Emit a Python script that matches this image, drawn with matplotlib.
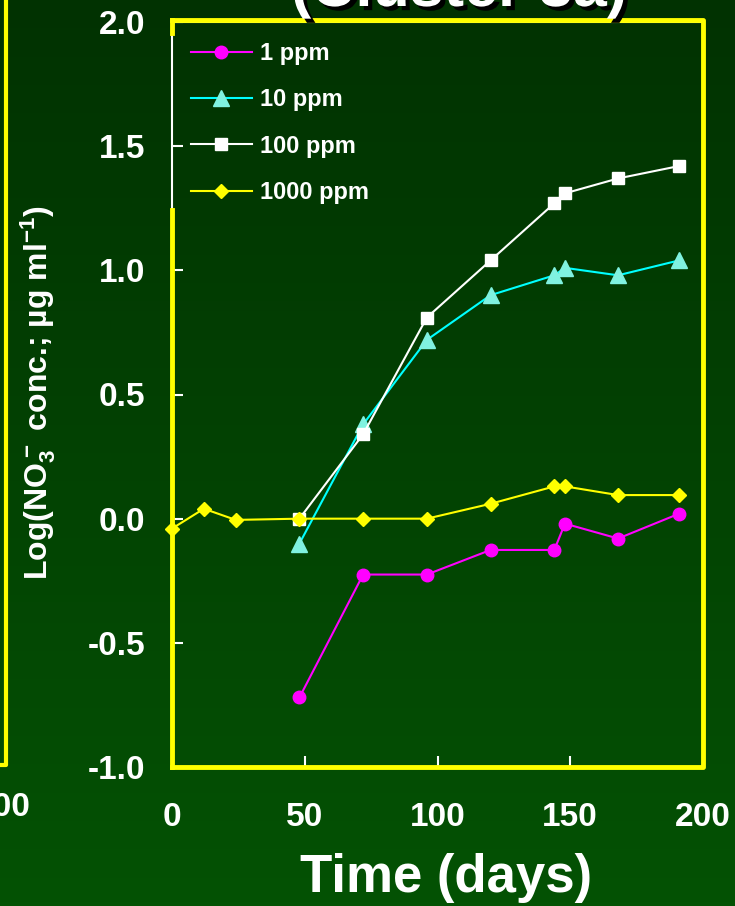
import matplotlib
matplotlib.use("Agg")
import matplotlib.pyplot as plt
import matplotlib.patheffects as pe
import numpy as np

plt.rcParams['font.family'] = ['Liberation Sans', 'DejaVu Sans']
plt.rcParams['font.weight'] = 'bold'
plt.rcParams['mathtext.fontset'] = 'custom'
plt.rcParams['mathtext.rm'] = 'Liberation Sans:bold'
plt.rcParams['mathtext.bf'] = 'Liberation Sans:bold'
plt.rcParams['mathtext.default'] = 'rm'
plt.rcParams['axes.unicode_minus'] = False

# data
days = [48, 72, 96, 120, 144, 148, 168, 191]
ppm1 = [-0.72, -0.225, -0.225, -0.126, -0.126, -0.02, -0.08, 0.02]
ppm10 = [-0.1, 0.38, 0.72, 0.9, 0.98, 1.01, 0.98, 1.04]
ppm100 = [0.0, 0.34, 0.81, 1.04, 1.27, 1.31, 1.37, 1.42]
days1000 = [0, 12, 24, 48, 72, 96, 120, 144, 148, 168, 191]
ppm1000 = [-0.04, 0.04, -0.005, 0.0, 0.0, 0.0, 0.06, 0.13, 0.13, 0.095, 0.095]
labels = ["1 ppm", "10 ppm", "100 ppm", "1000 ppm"]
xticks = [0, 50, 100, 150, 200]
yticks = [-1.0, -0.5, 0.0, 0.5, 1.0, 1.5, 2.0]

W, H = 735, 906
fig = plt.figure(figsize=(W / 100, H / 100), dpi=100)

# green gradient background of the slide
bg = fig.add_axes([0, 0, 1, 1], zorder=-10)
top = np.array([1, 50, 1]) / 255
bot = np.array([4, 82, 4]) / 255
t = np.linspace(0, 1, 256)[:, None]
grad = top[None, None, :] * (1 - t[:, :, None]) + bot[None, None, :] * t[:, :, None]
bg.imshow(np.repeat(grad, 2, axis=1), aspect='auto', extent=[0, 1, 0, 1])
bg.set_axis_off()

ax = fig.add_axes([172 / W, 1 - 767 / H, (703 - 172) / W, (767 - 22) / H])
ax.set_facecolor('none')

ax.plot(days, ppm1, color='#ff00ff', lw=1.5, marker='o', ms=9, mfc='#ff00ff', mec='#ff00ff', label=labels[0], clip_on=False, zorder=3)
ax.plot(days, ppm10, color='#00ffff', lw=1.5, marker='^', ms=11, mfc='#80f2e0', mec='#80f2e0', label=labels[1], clip_on=False, zorder=3)
ax.plot(days, ppm100, color='white', lw=1.5, marker='s', ms=9, mfc='white', mec='white', label=labels[2], clip_on=False, zorder=3)
ax.plot(days1000, ppm1000, color='#ffff00', lw=1.5, marker='D', ms=7.5, mfc='#ffff00', mec='#ffff00', label=labels[3], clip_on=False, zorder=4)

ax.set_xlim(0, 200)
ax.set_ylim(-1.0, 2.0)
ax.set_xticks(xticks)
ax.set_yticks(yticks)
ax.set_yticklabels(["%.1f" % v for v in yticks])
ax.tick_params(axis='both', direction='in', length=8, width=1.5, color='white',
               labelcolor='white', labelsize=24)
ax.tick_params(axis='y', pad=19)
ax.tick_params(axis='x', pad=25)
for s in ax.spines.values():
    s.set_color('white')
    s.set_linewidth(1.5)

# yellow frame over the axes (gap on the left behind the legend)
yk = dict(color='#ffff00', lw=3.5, transform=ax.transAxes, clip_on=False, zorder=5, solid_capstyle='projecting')
ax.plot([0, 1, 1, 0], [1.003, 1.003, 0, 0], **yk)
ax.plot([0, 0], [1.003, 0.985], **yk)
ax.plot([0, 0], [0.748, 0], **yk)

ax.set_xlabel("Time (days)", fontsize=38, color='white', fontweight='bold')
ax.xaxis.set_label_coords(0.516, -0.115)
ax.xaxis.label.set_va('top')
ax.set_ylabel(r"Log(NO$_3^-$ conc.; µg ml$^{-1}$)", fontsize=23, color='white', fontweight='bold')
ax.yaxis.label.set_va('center')
ax.yaxis.set_label_coords(-0.252, 0.503)

leg = ax.legend(loc='upper left', bbox_to_anchor=(191 / W, 1 - 42 / H), bbox_transform=fig.transFigure,
                frameon=False, fontsize=17, handlelength=2.58, handletextpad=0.35,
                labelspacing=0.99, borderpad=0, borderaxespad=0)
for txt in leg.get_texts():
    txt.set_color('white')

# cut-off title of the slide
fig.text(459 / W, 1 - 6 / H, "(Cluster 3a)", fontsize=44, color='white', fontweight='bold',
         ha='center', va='baseline',
         path_effects=[pe.withSimplePatchShadow(offset=(3, -3), shadow_rgbFace='black', alpha=1)])

# edge of the neighbouring panel on the left
fig.add_artist(plt.Line2D([6 / W, 6 / W, 0], [1, 1 - 765 / H, 1 - 765 / H], color='#ffff00', lw=3,
                          transform=fig.transFigure))
fig.text(31 / W, 1 - 808 / H, "200", fontsize=24, color='white', fontweight='bold', ha='right', va='center')

fig.savefig("out.png", dpi=100)
